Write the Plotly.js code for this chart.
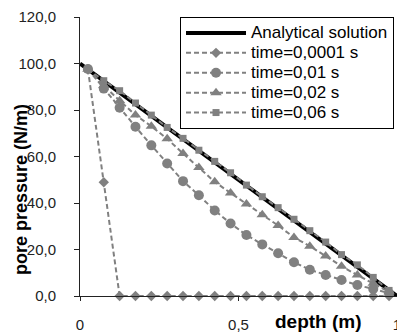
<!DOCTYPE html>
<html>
<head>
<meta charset="utf-8">
<script src="https://cdn.plot.ly/plotly-3.0.1.min.js"></script>
<style>
html,body{margin:0;padding:0;background:#fff;}
#chart{width:397px;height:336px;}
</style>
</head>
<body>
<div id="chart"></div>
<script>
// Data
var analyticalDepth = [0, 1];
var analyticalPressure = [100, 0];

var depth = [0.025, 0.075, 0.125, 0.175, 0.225, 0.275, 0.325, 0.375, 0.425, 0.475,
             0.525, 0.575, 0.625, 0.675, 0.725, 0.775, 0.825, 0.875, 0.925, 0.975];

var p_t00001 = [97.5, 48.9, 0, 0, 0, 0, 0, 0, 0, 0, 0, 0, 0, 0, 0, 0, 0, 0, 0, 0];
var p_t001   = [97.6, 89.2, 81.0, 72.8, 64.8, 57.0, 49.4, 43.3, 36.8, 31.2,
                26.2, 22.2, 18.4, 14.5, 11.3, 9.0, 6.9, 4.7, 3.0, 1.2];
var p_t002   = [97.5, 90.5, 84.0, 77.8, 73.0, 67.6, 61.3, 55.3, 49.1, 44.3,
                39.6, 35.0, 30.3, 25.2, 21.4, 17.2, 12.8, 9.0, 5.5, 1.8];
var p_t006   = [97.5, 92.6, 88.3, 83.0, 77.8, 72.5, 67.8, 62.7, 57.9, 53.0,
                47.7, 42.7, 38.0, 33.0, 28.1, 23.2, 17.8, 13.4, 8.0, 2.4];

var seriesNames = ['Analytical solution', 'time=0,0001 s', 'time=0,01 s', 'time=0,02 s', 'time=0,06 s'];
var yTickVals = [0, 20, 40, 60, 80, 100, 120];
var yTickText = ['0,0', '20,0', '40,0', '60,0', '80,0', '100,0', '120,0'];
var xTickVals = [0, 0.5, 1];
var xTickText = ['0', '0,5', '1'];

function legendLabel(s) { return '<span style="font-size:17px">' + s + '</span>'; }

var grey = '#808080';
function numTrace(y, name, symbol, size) {
  return {
    x: depth, y: y, name: legendLabel(name), type: 'scatter', mode: 'lines+markers',
    cliponaxis: false,
    line: {color: grey, width: 2, dash: '5px,3px'},
    marker: {color: grey, symbol: symbol, size: size, line: {width: 0}}
  };
}

var traces = [
  {x: analyticalDepth, y: analyticalPressure, name: legendLabel(seriesNames[0]), type: 'scatter', mode: 'lines',
   cliponaxis: false, line: {color: '#000', width: 4}},
  numTrace(p_t00001, seriesNames[1], 'diamond', 8),
  numTrace(p_t001, seriesNames[2], 'circle', 10),
  numTrace(p_t002, seriesNames[3], 'triangle-up', 10),
  numTrace(p_t006, seriesNames[4], 'square', 7)
];

var layout = {
  width: 397, height: 336,
  margin: {l: 80, r: 0, t: 17, b: 40, pad: 0},
  paper_bgcolor: '#fff', plot_bgcolor: '#fff',
  font: {family: 'Liberation Sans, Arial, sans-serif', color: '#222'},
  showlegend: true,
  legend: {
    x: 0.3155, y: 1.0, xanchor: 'left', yanchor: 'top',
    bgcolor: '#fff', bordercolor: '#000', borderwidth: 1,
    font: {size: 13, color: '#000', family: 'Liberation Sans, Arial, sans-serif'},
    itemwidth: 60, tracegroupgap: 0
  },
  xaxis: {
    range: [0, 1], tickvals: xTickVals, ticktext: xTickText,
    showgrid: false, zeroline: false, showline: true, linecolor: '#222', linewidth: 1,
    ticks: 'outside', ticklen: 4, tickcolor: '#222',
    tickfont: {size: 15, color: '#222'}, ticklabelstandoff: 11, ticklabeloverflow: 'allow'
  },
  yaxis: {
    range: [0, 120], tickvals: yTickVals, ticktext: yTickText,
    showgrid: false, zeroline: false, showline: true, linecolor: '#222', linewidth: 1,
    ticks: 'outside', ticklen: 5, tickcolor: '#222',
    tickfont: {size: 15, color: '#222'}, ticklabelstandoff: 15
  },
  annotations: [
    {text: '<b>depth (m)</b>', xref: 'paper', yref: 'paper', x: 0.751, y: -0.09,
     xanchor: 'center', yanchor: 'middle', showarrow: false,
     font: {size: 19, color: '#000'}},
    {text: '<b>pore pressure (N/m)</b>', xref: 'paper', yref: 'paper', x: -0.186, y: 0.38,
     xanchor: 'center', yanchor: 'middle', showarrow: false, textangle: -90,
     font: {size: 18, color: '#000'}}
  ]
};

Plotly.newPlot('chart', traces, layout, {displayModeBar: false, staticPlot: true});
</script>
</body>
</html>
